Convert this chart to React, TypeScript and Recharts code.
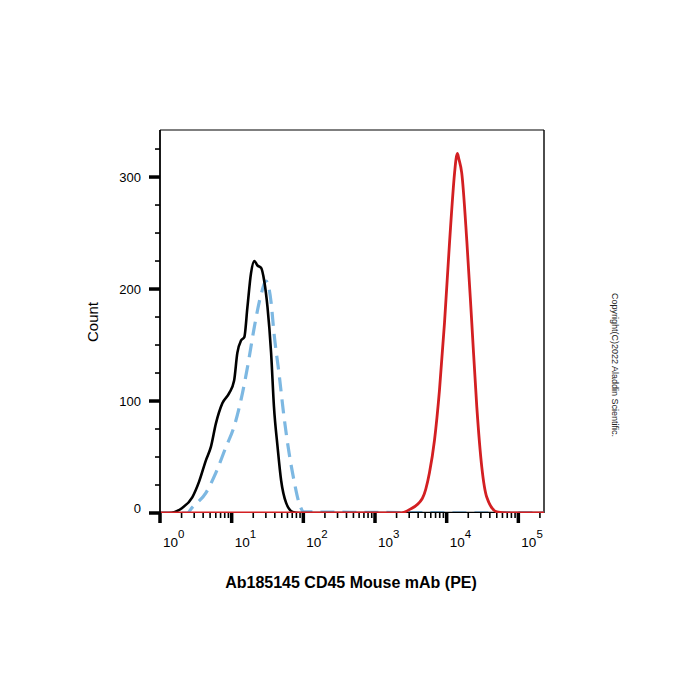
import { LineChart, Line, XAxis, YAxis, ReferenceLine } from 'recharts';

// fluorescence intensity (PE), log axis
const xMin = 1;
const xMax = 228000;
const yMax = 342;

const xMajorTicks = [1, 10, 100, 1000, 10000, 100000];
const xExponents = ['0', '1', '2', '3', '4', '5'];
const yTicks = [0, 25, 50, 75, 100, 125, 150, 175, 200, 225, 250, 275, 300, 325];

// unstained / isotype control (solid black)
const blackX = [1, 1.34, 2.04, 2.82, 3.51, 4.37, 5.13, 6.03, 7.41, 9.23, 10.8, 12.0, 13.5, 15.0, 16.6, 18.6, 20.7, 22.9, 25.7, 28.5, 31.6, 35.5, 38.9, 43.7, 49.0, 57.5, 70.8, 87.1, 228000];
const blackCount = [0, 0, 4.5, 14, 28, 47, 59, 80, 98, 107, 118, 143, 154, 157, 184, 214, 225, 221, 219, 207, 184, 143, 95, 59, 29, 9, 1, 0, 0];

// isotype (dashed light blue)
const blueX = [1, 2.4, 2.82, 4.37, 6.03, 8.32, 10.8, 13.5, 16.6, 20.7, 25.7, 30.2, 35.5, 38.9, 45.7, 53.7, 63.1, 74.1, 87.1, 102, 228000];
const blueCount = [0, 0, 5, 18, 36, 59, 77, 101, 130, 166, 195, 207, 188, 161, 125, 86, 54, 29, 9, 1, 0];

// CD45 stained (red)
const redX = [1, 2190, 3020, 4570, 5750, 6760, 7940, 9330, 11000, 12900, 13500, 14100, 14800, 16200, 19100, 22400, 26300, 30900, 36300, 50100, 69200, 228000];
const redCount = [0, 0, 3, 13, 36, 65, 110, 170, 243, 304, 316, 321, 316, 304, 243, 170, 95, 41, 14, 1, 0, 0];

const toPoints = (xs: number[], ys: number[]) => xs.map((x, i) => ({ x, y: ys[i] }));
const blackData = toPoints(blackX, blackCount);
const blueData = toPoints(blueX, blueCount);
const redData = toPoints(redX, redCount);

const xMinorTicks: number[] = [];
for (let d = 1; d <= 100000; d *= 10) {
    for (let m = 2; m <= 9; m++) {
        if (m * d <= xMax) xMinorTicks.push(m * d);
    }
}
const xTicks = [...xMajorTicks, ...xMinorTicks].sort((a, b) => a - b);

const font = "Arial, 'Liberation Sans', Helvetica, sans-serif";

const XTick = (props: any) => {
    const { x, y, payload } = props;
    const idx = xMajorTicks.indexOf(payload.value);
    const major = idx >= 0;
    return (
        <g>
            <line x1={x} x2={x} y1={y} y2={y + (major ? 10 : 5)} stroke="#000" strokeWidth={major ? 3.5 : 1.6} />
            {major && (
                <text x={x + 3} y={y + 34} fontSize={13.5} fontFamily={font} fill="#000">
                    10
                    <tspan dy={-9} fontSize={11.5}>{xExponents[idx]}</tspan>
                </text>
            )}
        </g>
    );
};

const YTick = (props: any) => {
    const { x, y, payload } = props;
    const major = payload.value % 100 === 0;
    return (
        <g>
            <line x1={x} x2={x - (major ? 11 : 5)} y1={y} y2={y} stroke="#000" strokeWidth={major ? 3.5 : 1.6} />
            {major && (
                <text x={x - 19} y={y + 4.5 - (payload.value === 0 ? 5 : 0)} textAnchor="end" fontSize={13} fontFamily={font} fill="#000">
                    {payload.value}
                </text>
            )}
        </g>
    );
};

const App = () => {
    return (
        <div style={{ position: 'absolute', left: 0, top: 0, width: 700, height: 700, background: '#fff', fontFamily: font }}>
            <LineChart width={700} height={700} margin={{ top: 130, right: 156, left: 100, bottom: 147 }}>
                <XAxis
                    dataKey="x"
                    type="number"
                    scale="log"
                    domain={[xMin, xMax]}
                    allowDataOverflow
                    ticks={xTicks}
                    interval={0}
                    tick={<XTick />}
                    tickLine={false}
                    tickSize={0}
                    tickMargin={0}
                    height={40}
                    axisLine={false}
                />
                <YAxis
                    type="number"
                    domain={[0, yMax]}
                    allowDataOverflow
                    ticks={yTicks}
                    interval={0}
                    tick={<YTick />}
                    tickLine={false}
                    tickSize={0}
                    tickMargin={0}
                    width={60}
                    axisLine={{ stroke: '#000', strokeWidth: 1.8 }}
                />
                <ReferenceLine y={yMax} stroke="#000" strokeWidth={1.2} />
                <ReferenceLine x={xMax} stroke="#000" strokeWidth={1.4} />
                <Line data={blueData} dataKey="y" type="monotone" stroke="#7db8e2" strokeWidth={3.2} strokeDasharray="14 8" dot={false} isAnimationActive={false} />
                <Line data={blackData} dataKey="y" type="monotone" stroke="#000" strokeWidth={2.6} dot={false} isAnimationActive={false} />
                <Line data={redData} dataKey="y" type="monotone" stroke="#d31f22" strokeWidth={2.8} dot={false} isAnimationActive={false} />
            </LineChart>
            <div style={{ position: 'absolute', left: 92, top: 322, transform: 'translate(-50%, -50%) rotate(-90deg)', fontSize: 15, whiteSpace: 'nowrap', color: '#000' }}>
                Count
            </div>
            <div style={{ position: 'absolute', left: 351, top: 583, transform: 'translate(-50%, -50%)', fontSize: 16, fontWeight: 'bold', whiteSpace: 'nowrap', color: '#000' }}>
                Ab185145 CD45 Mouse mAb (PE)
            </div>
            <div style={{ position: 'absolute', left: 615, top: 365, transform: 'translate(-50%, -50%) rotate(90deg)', fontSize: 9, whiteSpace: 'nowrap', color: '#222' }}>
                Copyright(C)2022 Aladdin Scientific.
            </div>
        </div>
    );
};

export default App;
